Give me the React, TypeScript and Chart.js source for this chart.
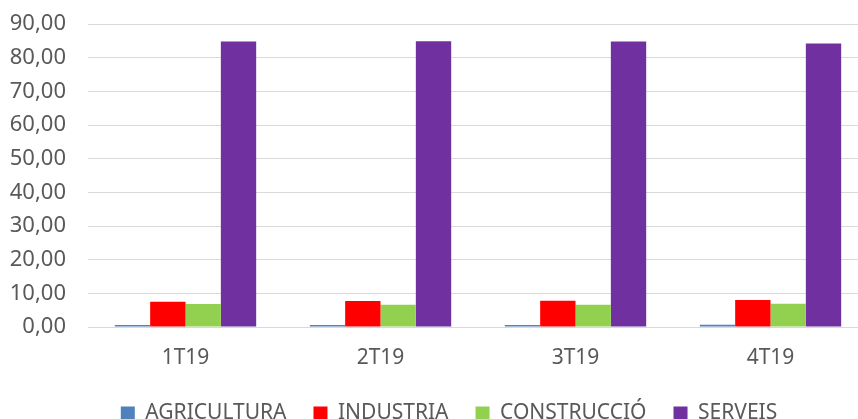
import React, { useEffect, useRef } from "react";
import { Chart, registerables } from "chart.js";

Chart.register(...registerables);

const categories = ["1T19", "2T19", "3T19", "4T19"];
const agricultura = [0.6, 0.6, 0.6, 0.7];
const industria = [7.5, 7.7, 7.8, 8.0];
const construccio = [6.8, 6.6, 6.6, 6.9];
const serveis = [84.85, 84.9, 84.85, 84.25];
const yTicks = [0, 10, 20, 30, 40, 50, 60, 70, 80, 90];

const legendShift = {
  id: "legendShift",
  afterLayout(chart: any) {
    const l = chart.legend;
    if (l) {
      l.left += 15;
      l.right += 15;
    }
  },
};

export default function App() {
  const ref = useRef<HTMLCanvasElement | null>(null);
  useEffect(() => {
    document.body.style.margin = "0";
    const font = "'Noto Sans', 'Liberation Sans', sans-serif";
    const chart = new Chart(ref.current!, {
      type: "bar",
      data: {
        labels: categories,
        datasets: [
          { label: "AGRICULTURA", data: agricultura, backgroundColor: "#4f81bd" },
          { label: "INDUSTRIA", data: industria, backgroundColor: "#ff0000" },
          { label: "CONSTRUCCIÓ", data: construccio, backgroundColor: "#92d050" },
          { label: "SERVEIS", data: serveis, backgroundColor: "#7030a0" },
        ],
      },
      options: {
        responsive: false,
        animation: false,
        datasets: { bar: { categoryPercentage: 0.725, barPercentage: 1 } },
        layout: { padding: { left: 0, right: 0, top: 6, bottom: 0 } },
        plugins: {
          tooltip: { enabled: false },
          legend: {
            position: "bottom",
            labels: {
              color: "#595959",
              font: { family: font, size: 21 },
              boxWidth: 14,
              boxHeight: 14,
              padding: 27,
            },
          },
        },
        scales: {
          x: {
            grid: { display: false, drawTicks: false },
            border: { color: "#d9d9d9", width: 1 },
            ticks: { color: "#595959", font: { family: font, size: 21 }, padding: 18 },
            afterFit: (s: any) => {
              s.height = 49;
            },
          },
          y: {
            min: 0,
            max: 90,
            afterBuildTicks: (axis: any) => {
              axis.ticks = yTicks.map((v) => ({ value: v }));
            },
            afterFit: (s: any) => {
              s.width = 88;
            },
            grid: { color: "#d9d9d9", drawTicks: false, lineWidth: 1 },
            border: { display: false },
            ticks: {
              color: "#595959",
              font: { family: font, size: 22 },
              padding: 22,
              callback: (v: any) => Number(v).toFixed(2).replace(".", ","),
            },
          },
        },
      },
      plugins: [legendShift],
    });
    return () => chart.destroy();
  }, []);
  return (
    <div style={{ width: 858, height: 419, overflow: "hidden", position: "relative" }}>
      <canvas ref={ref} width={868} height={445} style={{ position: "absolute", left: 0, top: -11 }} />
    </div>
  );
}
